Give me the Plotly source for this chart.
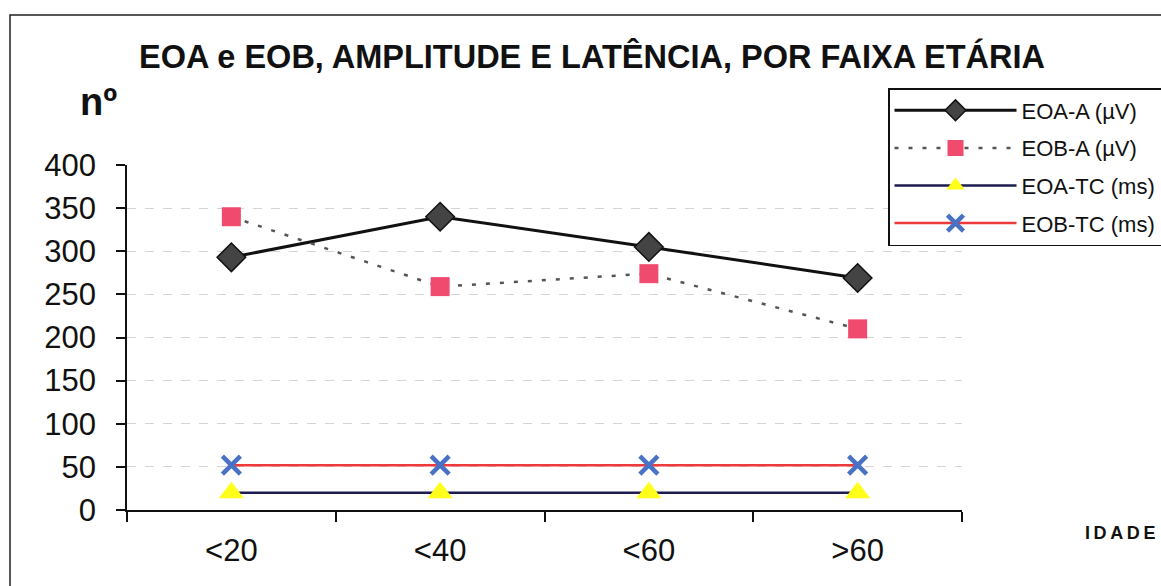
import plotly.graph_objects as go

categories = ["<20", "<40", "<60", ">60"]
eoa_a = [293, 340, 305, 269]
eob_a = [340, 259, 274, 210]
eoa_tc = [20, 20, 20, 20]
eob_tc = [52, 52, 52, 52]
y_ticks = [0, 50, 100, 150, 200, 250, 300, 350, 400]

FONT = "Liberation Sans, Arial, sans-serif"
W, H = 1161, 586
L, R, T, B = 127, 199, 165, 76

def px_to_paper_x(px):
    return (px - L) / (W - L - R)

def px_to_paper_y(py):
    return (H - B - py) / (H - T - B)

fig = go.Figure()
fig.add_trace(go.Scatter(
    x=categories, y=eoa_a, name="EOA-A (µV)", mode="lines+markers",
    line=dict(color="#111111", width=3),
    marker=dict(symbol="diamond", size=22, color="#444444", line=dict(color="#111111", width=1.5)),
    legendgroup="a"))
fig.add_trace(go.Scatter(
    x=categories, y=eob_a, name="EOB-A (µV)", mode="lines+markers",
    line=dict(color="#555555", width=2.5, dash="4px,10px"),
    marker=dict(symbol="square", size=19, color="#f04a6e"),
    legendgroup="b"))
fig.add_trace(go.Scatter(
    x=categories, y=eoa_tc, name="EOA-TC (ms)", mode="lines+markers",
    line=dict(color="#1c1c50", width=2.5),
    marker=dict(symbol="triangle-up", size=22, color="#ffff1a"),
    legendgroup="c"))
fig.add_trace(go.Scatter(
    x=categories, y=eob_tc, name="EOB-TC (ms)", mode="lines+markers",
    line=dict(color="#ee3a3a", width=2.5),
    marker=dict(symbol="x-thin-open", size=18, color="#4a72c4", line=dict(color="#4a72c4", width=4.5)),
    legendgroup="d"))

fig.update_layout(
    width=W, height=H,
    margin=dict(l=L, r=R, t=T, b=B, autoexpand=False),
    paper_bgcolor="white", plot_bgcolor="white",
    font=dict(family=FONT, color="#111111"),
    title=dict(text="<b>EOA e EOB, AMPLITUDE E LATÊNCIA, POR FAIXA ETÁRIA</b>",
               x=592 / W, xanchor="center", y=1 - 57 / H, yanchor="middle",
               font=dict(size=32.5, family=FONT, color="#111111")),
    showlegend=True,
    legend=dict(x=px_to_paper_x(888), y=px_to_paper_y(88), xanchor="left", yanchor="top",
                bordercolor="#111111", borderwidth=1.5, bgcolor="white",
                font=dict(size=22, family=FONT, color="#111111"),
                itemwidth=122, tracegroupgap=6, traceorder="grouped"),
    xaxis=dict(type="category", tickson="boundaries", ticks="outside", ticklen=10,
               tickcolor="#111111", tickwidth=1.5, showline=True, linecolor="#111111", linewidth=1.5,
               showgrid=False, tickfont=dict(size=31, family=FONT, color="#111111"),
               ticklabelstandoff=12, range=[-0.5, 3.5]),
    yaxis=dict(range=[0, 400], tickvals=y_ticks, ticks="outside", ticklen=9,
               tickcolor="#111111", tickwidth=1.5, showline=True, linecolor="#111111", linewidth=1.5,
               showgrid=True, gridcolor="#d4d4d4", griddash="dash", gridwidth=1,
               zeroline=False, tickfont=dict(size=31, family=FONT, color="#111111"),
               ticklabelstandoff=14),
)

# outer chart-area border
fig.add_shape(type="rect", xref="paper", yref="paper",
              x0=px_to_paper_x(10), x1=px_to_paper_x(1175),
              y0=px_to_paper_y(600), y1=px_to_paper_y(15),
              line=dict(color="#222222", width=1.5), fillcolor="rgba(0,0,0,0)", layer="below")

fig.add_annotation(text="<b>nº</b>", xref="paper", yref="paper",
                   x=px_to_paper_x(78), y=px_to_paper_y(102), xanchor="left", yanchor="middle",
                   showarrow=False, font=dict(size=38, family=FONT, color="#111111"))
fig.add_annotation(text="<b>I\u2009D\u2009A\u2009D\u2009E</b>", xref="paper", yref="paper",
                   x=px_to_paper_x(1083), y=px_to_paper_y(533), xanchor="left", yanchor="middle",
                   showarrow=False, font=dict(size=18, family=FONT, color="#111111"))

fig.write_html("out.html")
